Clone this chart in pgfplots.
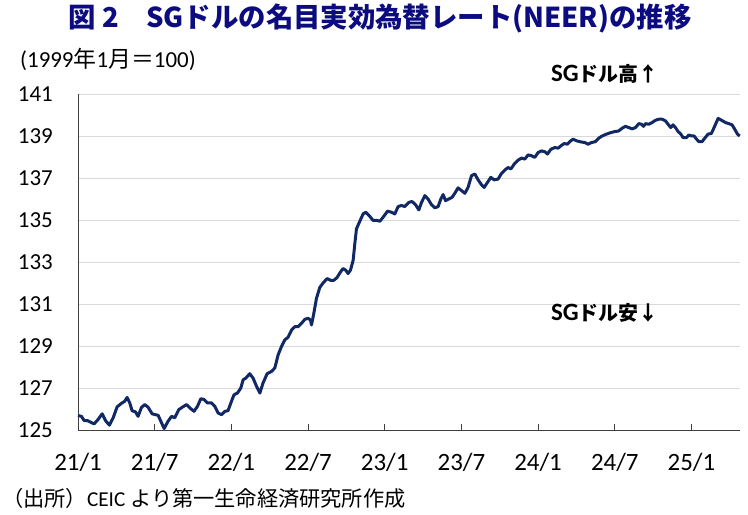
\documentclass[border=0pt]{standalone}
\usepackage{fontspec}
\setmainfont{Carlito}
\newfontfamily\jp{Noto Sans CJK JP}
\usepackage{pgfplots}
\pgfplotsset{compat=1.18}
\definecolor{navyline}{RGB}{16,40,100}
\definecolor{titleblue}{RGB}{12,12,128}
\definecolor{gridgray}{RGB}{217,217,217}
\definecolor{spine}{RGB}{64,64,64}
\begin{document}
\begin{tikzpicture}
\useasboundingbox (0,0) rectangle (748bp,515bp);
\begin{axis}[
  at={(78bp,85bp)}, anchor=south west,
  scale only axis, width=662bp, height=336bp,
  xmin=0, xmax=51.8, ymin=125, ymax=141,
  enlargelimits=false, clip=false,
  axis x line*=bottom, axis y line*=left,
  axis line style={spine, line width=0.9bp, -},
  xtick={0,6,12,18,24,30,36,42,48},
  xticklabels={21/1,21/7,22/1,22/7,23/1,23/7,24/1,24/7,25/1},
  ytick={125,127,129,131,133,135,137,139,141},
  tick align=inside, major tick length=6bp,
  xtick style={spine, line width=0.9bp},
  ytick style={draw=none},
  ymajorgrids, major grid style={gridgray, line width=0.9bp},
  /pgf/number format/assume math mode=true,
  yticklabel style={font=\fontsize{23}{23}\selectfont, inner sep=0pt, anchor=east, xshift=-25bp},
  xticklabel style={font=\fontsize{25}{25}\selectfont, inner sep=0pt, anchor=north, yshift=-23bp},
]
\addplot[navyline, line width=3bp, line join=round, no markers] coordinates {
(0,125.69)(0.27,125.65)(0.48,125.45)(0.74,125.45)(1.00,125.37)(1.26,125.29)(1.57,125.50)(1.89,125.77)
(2.15,125.45)(2.46,125.23)(2.75,125.58)(3.06,126.10)(3.40,126.27)(3.66,126.37)(3.84,126.55)(4.05,126.29)
(4.23,125.92)(4.50,125.86)(4.70,125.65)(4.97,126.08)(5.23,126.21)(5.49,126.08)(5.80,125.77)(6.06,125.73)
(6.27,125.70)(6.48,125.42)(6.74,125.07)(7.05,125.42)(7.32,125.65)(7.57,125.58)(7.89,125.97)(8.15,126.08)
(8.49,126.21)(8.75,126.05)(9.08,125.89)(9.35,126.13)(9.61,126.49)(9.87,126.45)(10.13,126.29)(10.45,126.29)
(10.70,126.13)(10.96,125.81)(11.23,125.73)(11.49,125.89)(11.74,125.92)(12.01,126.37)(12.21,126.68)(12.48,126.76)
(12.74,127.00)(12.92,127.39)(13.13,127.47)(13.44,127.68)(13.70,127.47)(13.97,127.08)(14.23,126.76)(14.48,127.24)
(14.80,127.68)(15.14,127.79)(15.40,127.95)(15.66,128.58)(15.92,128.97)(16.18,129.29)(16.44,129.42)(16.71,129.76)
(16.96,129.92)(17.22,129.92)(17.49,130.08)(17.75,130.27)(18.00,130.32)(18.19,130.24)(18.27,130.00)(18.45,130.55)
(18.66,131.27)(18.92,131.79)(19.18,132.00)(19.49,132.21)(19.76,132.13)(20.02,132.13)(20.27,132.26)(20.49,132.48)
(20.74,132.69)(20.95,132.61)(21.13,132.45)(21.32,132.61)(21.53,133.08)(21.66,133.87)(21.79,134.58)(22.05,134.94)
(22.31,135.29)(22.52,135.37)(22.78,135.21)(23.09,134.98)(23.40,134.98)(23.62,134.94)(23.87,135.13)(24.22,135.42)
(24.53,135.37)(24.79,135.29)(25.05,135.64)(25.31,135.69)(25.57,135.64)(25.89,135.84)(26.14,135.88)(26.41,135.73)
(26.67,135.48)(26.88,135.84)(27.14,136.16)(27.39,136.00)(27.66,135.73)(27.92,135.58)(28.18,135.64)(28.39,136.00)
(28.57,136.21)(28.76,135.92)(29.01,136.00)(29.27,136.08)(29.48,136.27)(29.74,136.53)(30.01,136.40)(30.27,136.27)
(30.52,136.55)(30.79,137.11)(31.05,137.19)(31.31,136.91)(31.57,136.68)(31.78,136.55)(32.04,136.79)(32.30,137.03)
(32.56,136.91)(32.87,136.95)(33.14,137.22)(33.40,137.38)(33.65,137.50)(33.87,137.43)(34.13,137.66)(34.44,137.85)
(34.70,137.95)(34.96,137.90)(35.22,138.10)(35.49,138.06)(35.74,137.98)(36.00,138.21)(36.27,138.29)(36.53,138.25)
(36.74,138.14)(37.00,138.37)(37.31,138.45)(37.57,138.42)(37.78,138.53)(38.04,138.64)(38.30,138.61)(38.48,138.73)
(38.74,138.85)(39.01,138.77)(39.34,138.72)(39.65,138.69)(39.91,138.61)(40.18,138.69)(40.49,138.73)(40.75,138.90)
(41.01,139.00)(41.35,139.09)(41.69,139.16)(42.00,139.21)(42.31,139.24)(42.57,139.37)(42.84,139.46)(43.10,139.40)
(43.36,139.34)(43.62,139.40)(43.88,139.59)(44.09,139.56)(44.25,139.46)(44.41,139.59)(44.66,139.56)(44.92,139.64)
(45.19,139.75)(45.45,139.80)(45.71,139.80)(45.97,139.72)(46.17,139.56)(46.38,139.40)(46.56,139.53)(46.75,139.40)
(46.96,139.21)(47.17,139.09)(47.35,138.92)(47.61,138.92)(47.79,139.05)(48.00,139.00)(48.21,139.00)(48.40,138.85)
(48.58,138.73)(48.83,138.73)(49.05,138.90)(49.30,139.09)(49.56,139.12)(49.77,139.40)(50.09,139.84)(50.35,139.75)
(50.67,139.64)(50.92,139.59)(51.18,139.53)(51.39,139.32)(51.60,139.09)(51.78,139.00)
};
\end{axis}
\node[anchor=center, inner sep=0pt, text=titleblue, font=\jp\bfseries\fontsize{27.5}{27.5}\selectfont] at (380bp,496bp) {図 2　SGドルの名目実効為替レート(NEER)の推移};
\node[anchor=west, inner sep=0pt, font=\fontsize{23}{23}\selectfont] at (20bp,456bp) {(1999{\jp 年}1{\jp 月＝}100)};
\node[anchor=west, inner sep=0pt, font=\fontsize{20}{20}\selectfont] at (551bp,441bp) {{\fontsize{25}{25}\selectfont\bfseries SG}{\jp\bfseries ドル高↑}};
\node[anchor=west, inner sep=0pt, font=\fontsize{20}{20}\selectfont] at (551bp,202bp) {{\fontsize{25}{25}\selectfont\bfseries SG}{\jp\bfseries ドル安↓}};
\node[anchor=west, inner sep=0pt, font=\fontsize{21.3}{21.3}\selectfont] at (2bp,17bp) {{\jp （出所）}CEIC {\jp より第一生命経済研究所作成}};
\end{tikzpicture}
\end{document}
